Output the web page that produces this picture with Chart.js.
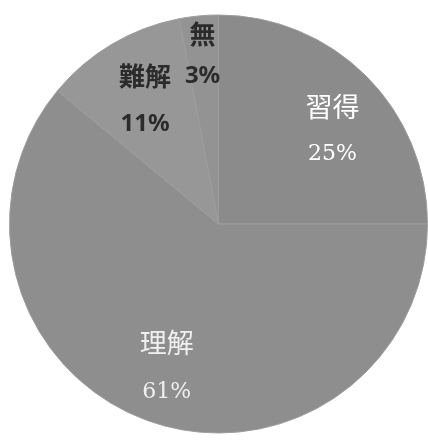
<!DOCTYPE html>
<html>
<head>
<meta charset="utf-8">
<script src="https://cdn.jsdelivr.net/npm/chart.js@4/dist/chart.umd.min.js"></script>
<style>
  html, body { margin: 0; padding: 0; background: #fff; }
  #chart { display: block; }
</style>
</head>
<body>
<canvas id="chart" width="428" height="441"></canvas>
<script>
// slices in clockwise order from 12 o'clock
const labels = ['習得', '理解', '難解', '無'];
const values = [25, 61, 11, 3];

const sliceColors = ['#8b8b8b', '#8e8e8e', '#979797', '#939393'];
const textColors = ['#ffffff', '#f0f0f0', '#2b2b2b', '#2b2b2b'];
const nameFonts = [
  'normal 27px "Noto Sans CJK JP", serif',
  'normal 27px "Noto Sans CJK JP", serif',
  'bold 26px "Noto Sans CJK JP", sans-serif',
  'bold 26px "Noto Sans CJK JP", sans-serif'
];
const pctFonts = [
  'normal 22px "DejaVu Serif", serif',
  'normal 22px "DejaVu Serif", serif',
  'bold 24px "Noto Sans", sans-serif',
  'bold 24px "Noto Sans", sans-serif'
];
const labelRadius = [0.705, 0.73, 0.69, 0.81];
const labelTurn = [0.098, 0, 0, 0];
const lineGap = [48, 50, 48, 42];

// draws "name / NN%" inside each slice, like the office chart did
const sliceLabels = {
  id: 'sliceLabels',
  afterDatasetsDraw(chart) {
    const ctx = chart.ctx;
    const meta = chart.getDatasetMeta(0);
    const total = values.reduce((a, b) => a + b, 0);
    ctx.save();
    ctx.textAlign = 'center';
    ctx.textBaseline = 'middle';
    meta.data.forEach((arc, i) => {
      const p = arc.getProps(['x', 'y', 'startAngle', 'endAngle', 'outerRadius'], true);
      const mid = (p.startAngle + p.endAngle) / 2 + labelTurn[i];
      const r = p.outerRadius * labelRadius[i];
      const x = p.x + Math.cos(mid) * r;
      const y = p.y + Math.sin(mid) * r;
      const pct = Math.round(values[i] / total * 100) + '%';
      ctx.fillStyle = textColors[i];
      ctx.font = nameFonts[i];
      ctx.fillText(labels[i], x, y - lineGap[i] / 2);
      ctx.font = pctFonts[i];
      ctx.fillText(pct, x, y + lineGap[i] / 2);
    });
    ctx.restore();
  }
};

new Chart(document.getElementById('chart'), {
  type: 'pie',
  data: {
    labels: labels,
    datasets: [{
      data: values,
      backgroundColor: sliceColors,
      borderColor: '#9d9d9d',
      borderWidth: 1
    }]
  },
  options: {
    responsive: false,
    animation: false,
    layout: { padding: { left: 9, right: 0, top: 10, bottom: 3 } },
    plugins: {
      legend: { display: false },
      tooltip: { enabled: false }
    }
  },
  plugins: [sliceLabels]
});
</script>
</body>
</html>
